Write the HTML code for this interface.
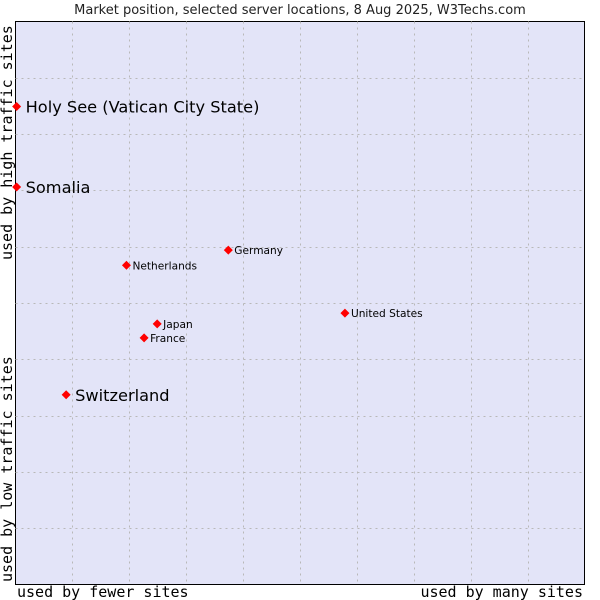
<!DOCTYPE html>
<html><head><meta charset="utf-8"><style>
body{margin:0;background:#fff}
svg{display:block;font-family:"DejaVu Sans","Liberation Sans",sans-serif}
.mono{font-family:"DejaVu Sans Mono","Liberation Mono",monospace;font-size:15px;fill:#000}
</style></head><body>
<svg id="c" width="600" height="600">
<text x="300" y="14" text-anchor="middle" font-size="13" fill="#222">Market position, selected server locations, 8 Aug 2025, W3Techs.com</text>
<rect x="15.5" y="21.5" width="569" height="563" fill="#e3e4f8" stroke="#000"/>
<g id="grid"></g>
<g id="pts"></g>
<text class="mono" x="17" y="597">used by fewer sites</text>
<text class="mono" x="583" y="597" text-anchor="end">used by many sites</text>
<text class="mono" transform="translate(12,260) rotate(-90)">used by high traffic sites</text>
<text class="mono" transform="translate(12,582) rotate(-90)">used by low traffic sites</text>
</svg>
<script>
const names=["Holy See (Vatican City State)","Somalia","Germany","Netherlands","United States","Japan","France","Switzerland"];
const xs=[0.02,0.02,3.74,1.95,5.79,2.49,2.26,0.89];
const ys=[8.49,7.06,5.94,5.67,4.82,4.63,4.38,3.37];
const big=[1,1,0,0,0,0,0,1];
const X0=15.5,X1=584.5,Y0=584.5,Y1=21.5;
const sx=v=>X0+(X1-X0)*v/10, sy=v=>Y0-(Y0-Y1)*v/10;
const NS="http://www.w3.org/2000/svg";
const g=document.getElementById('grid'),p=document.getElementById('pts');
for(let i=1;i<10;i++){
  let l=document.createElementNS(NS,'line');
  
  
  l.setAttribute('x1',Math.round(sx(i))+.5);l.setAttribute('x2',Math.round(sx(i))+.5);
  l.setAttribute('y1',Y1);l.setAttribute('y2',Y0);
  l.setAttribute('stroke','#b8b8b8');l.setAttribute('stroke-dasharray','2,4');g.appendChild(l);
  let h=document.createElementNS(NS,'line');
  
  
  h.setAttribute('y1',Math.round(sy(i))+.5);h.setAttribute('y2',Math.round(sy(i))+.5);
  h.setAttribute('x1',X0);h.setAttribute('x2',X1);
  h.setAttribute('stroke','#b8b8b8');h.setAttribute('stroke-dasharray','2,4');g.appendChild(h);
}
names.forEach((n,i)=>{
  const x=sx(xs[i]),y=sy(ys[i]);
  const d=document.createElementNS(NS,'path');
  
  
  d.setAttribute('d',`M${x-4.5},${y}L${x},${y-4.5}L${x+4.5},${y}L${x},${y+4.5}Z`);
  d.setAttribute('fill','#f00');p.appendChild(d);
  const t=document.createElementNS(NS,'text');
  
  
  t.setAttribute('x',x+(big[i]?9:6));t.setAttribute('y',y+(big[i]?6:4));
  t.setAttribute('font-size',big[i]?16.2:10.6);t.setAttribute('fill','#000');
  t.textContent=n;p.appendChild(t);
});
</script>
</body></html>
